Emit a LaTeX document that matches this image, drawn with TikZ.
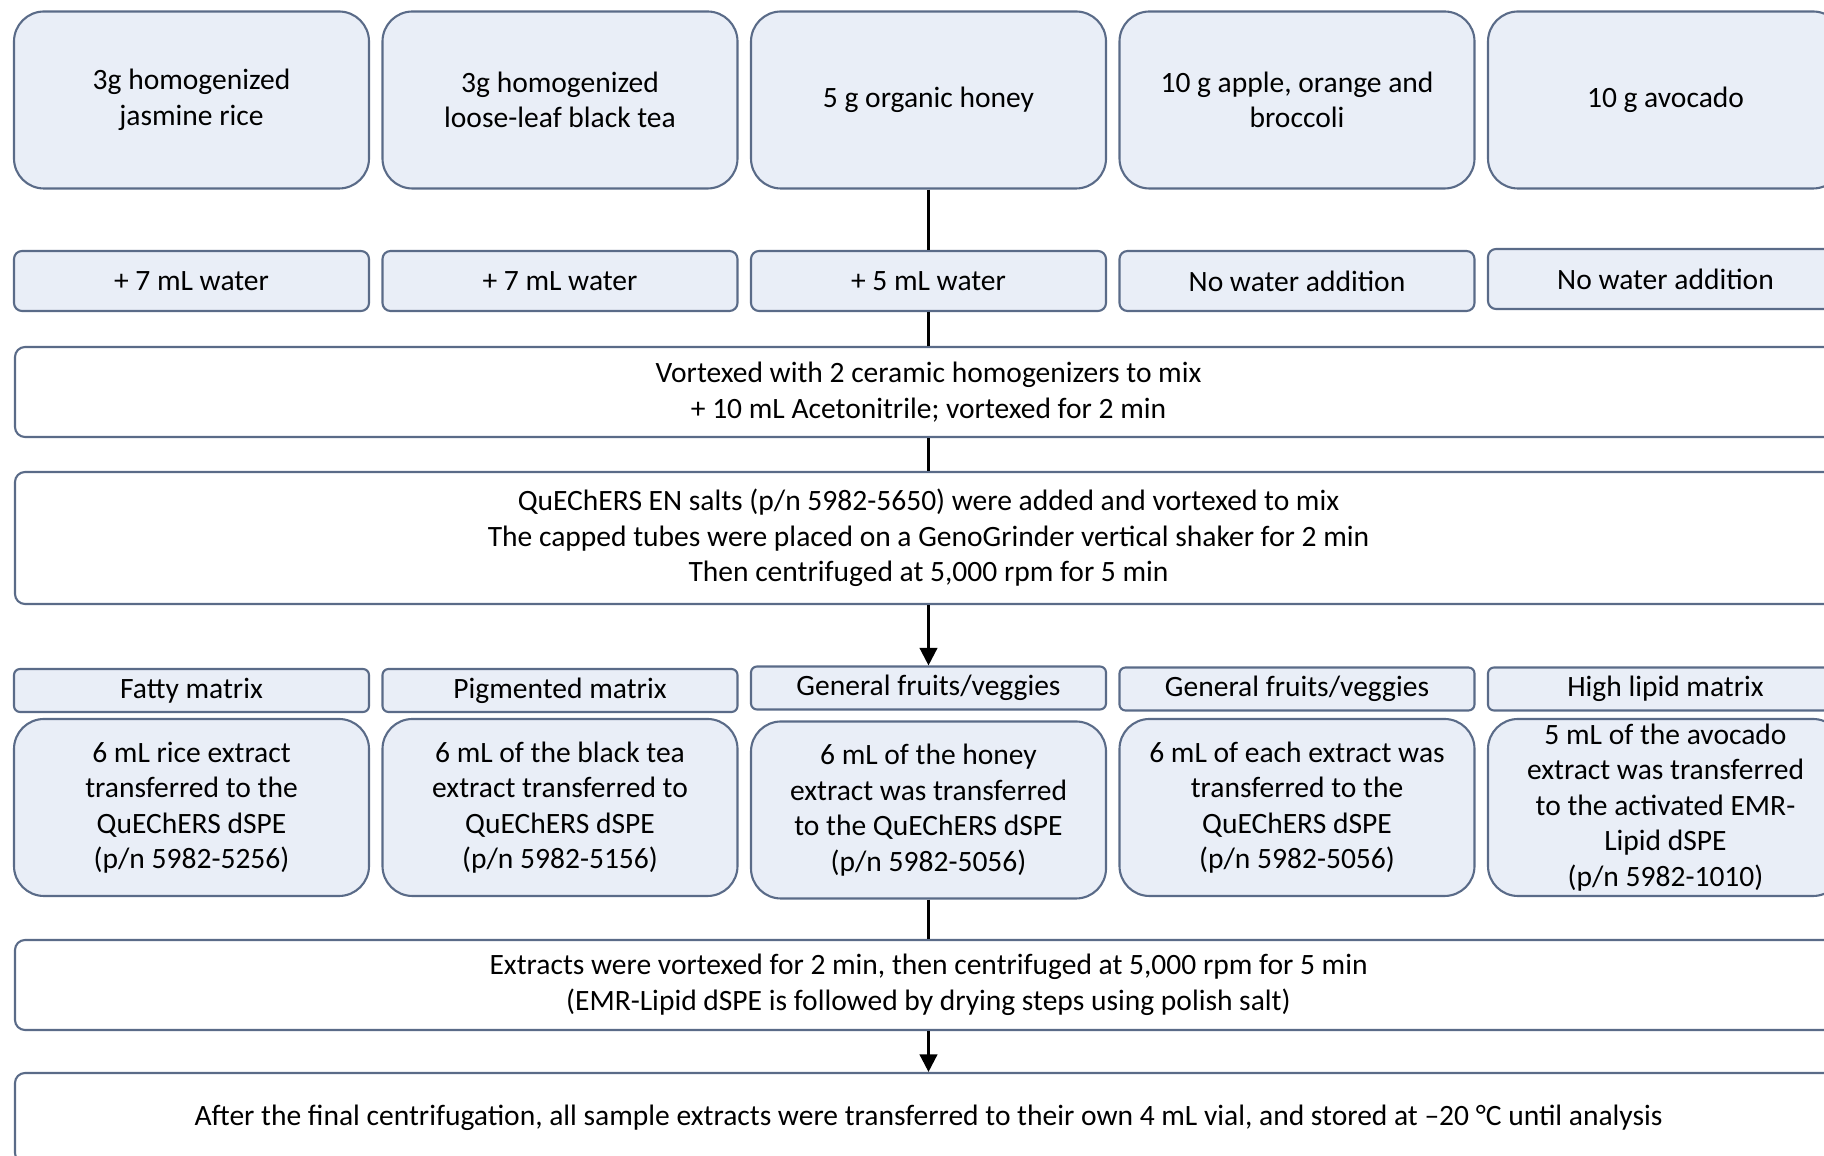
\documentclass[tikz,border=0pt]{standalone}
\usepackage{fontspec}
\setmainfont{Carlito}
\usetikzlibrary{arrows.meta}
\definecolor{boxfill}{HTML}{E9EEF7}
\definecolor{boxline}{HTML}{5A6B88}
\tikzset{
  base/.style={draw=boxline, line width=0.6pt, align=center, inner sep=0pt,
    font=\fontsize{8.4}{10.1}\selectfont},
  sample/.style={base, fill=boxfill, rounded corners=0.3cm, minimum width=3.55cm, minimum height=1.77cm},
  water/.style={base, fill=boxfill, rounded corners=0.08cm, minimum width=3.55cm, minimum height=0.6cm},
  tag/.style={base, fill=boxfill, rounded corners=0.06cm, minimum width=3.55cm, minimum height=0.43cm},
  extract/.style={base, fill=boxfill, rounded corners=0.3cm, minimum width=3.55cm, minimum height=1.77cm},
  wide/.style={base, fill=white, rounded corners=0.1cm, minimum width=18.27cm},
  link/.style={line width=0.7pt},
  flow/.style={link, -{Triangle[length=5pt,width=5pt]}}
}
\begin{document}
\begin{tikzpicture}[line join=round]
		%==spacing of the five columns
		\def\cx{1.915}
		\def\dx{3.685}
		%==============
		\useasboundingbox (0,0) rectangle (18.24,-11.56);
		\clip (0,0) rectangle (18.24,-11.56);
		% samples
		\node[sample] (s1) at (\cx,-1.00) {3g homogenized\\jasmine rice};
		\node[sample] (s2) at (\cx+\dx,-1.00) {3g homogenized\\loose-leaf black tea};
		\node[sample] (s3) at (\cx+2*\dx,-1.00) {5 g organic honey};
		\node[sample] (s4) at (\cx+3*\dx,-1.00) {10 g apple, orange and\\broccoli};
		\node[sample] (s5) at (\cx+4*\dx,-1.00) {10 g avocado};
		% water
		\node[water] (w1) at (\cx,-2.81) {+ 7 mL water};
		\node[water] (w2) at (\cx+\dx,-2.81) {+ 7 mL water};
		\node[water] (w3) at (\cx+2*\dx,-2.81) {+ 5 mL water};
		\node[water] (w4) at (\cx+3*\dx,-2.81) {No water addition};
		\node[water] (w5) at (\cx+4*\dx,-2.79) {No water addition};
		% extraction
		\node[wide, minimum height=0.9cm] (mix) at (\cx+2*\dx,-3.92)
		{Vortexed with 2 ceramic homogenizers to mix\\+ 10 mL Acetonitrile; vortexed for 2 min};
		\node[wide, minimum height=1.32cm] (salt) at (\cx+2*\dx,-5.38)
		{QuEChERS EN salts (p/n 5982-5650) were added and vortexed to mix\\
		The capped tubes were placed on a GenoGrinder vertical shaker for 2 min\\
		Then centrifuged at 5,000 rpm for 5 min};
		% matrix type
		\node[tag] (m1) at (\cx,-6.905) {Fatty matrix};
		\node[tag] (m2) at (\cx+\dx,-6.905) {Pigmented matrix};
		\node[tag] (m3) at (\cx+2*\dx,-6.88) {General fruits/veggies};
		\node[tag] (m4) at (\cx+3*\dx,-6.89) {General fruits/veggies};
		\node[tag] (m5) at (\cx+4*\dx,-6.89) {High lipid matrix};
		% dSPE cleanup
		\node[extract] (x1) at (\cx,-8.075) {6 mL rice extract\\transferred to the\\QuEChERS dSPE\\(p/n 5982-5256)};
		\node[extract] (x2) at (\cx+\dx,-8.075) {6 mL of the black tea\\extract transferred to\\QuEChERS dSPE\\(p/n 5982-5156)};
		\node[extract] (x3) at (\cx+2*\dx,-8.10) {6 mL of the honey\\extract was transferred\\to the QuEChERS dSPE\\(p/n 5982-5056)};
		\node[extract] (x4) at (\cx+3*\dx,-8.075) {6 mL of each extract was\\transferred to the\\QuEChERS dSPE\\(p/n 5982-5056)};
		\node[extract] (x5) at (\cx+4*\dx,-8.075) {5 mL of the avocado\\extract was transferred\\to the activated EMR-\\Lipid dSPE\\(p/n 5982-1010)};
		% final steps
		\node[wide, minimum height=0.9cm] (clean) at (\cx+2*\dx,-9.85)
		{Extracts were vortexed for 2 min, then centrifuged at 5,000 rpm for 5 min\\
		(EMR-Lipid dSPE is followed by drying steps using polish salt)};
		\node[wide, minimum height=0.9cm] (final) at (\cx+2*\dx,-11.18)
		{After the final centrifugation, all sample extracts were transferred to their own 4 mL vial, and stored at \textendash20 °C until analysis};
		% connectors
		\draw[link] (s3)--(w3);
		\draw[link] (w3)--(mix);
		\draw[link] (mix)--(salt);
		\draw[flow] (salt)--(m3);
		\draw[link] (x3)--(clean);
		\draw[flow] (clean)--(final);
\end{tikzpicture}
\end{document}
